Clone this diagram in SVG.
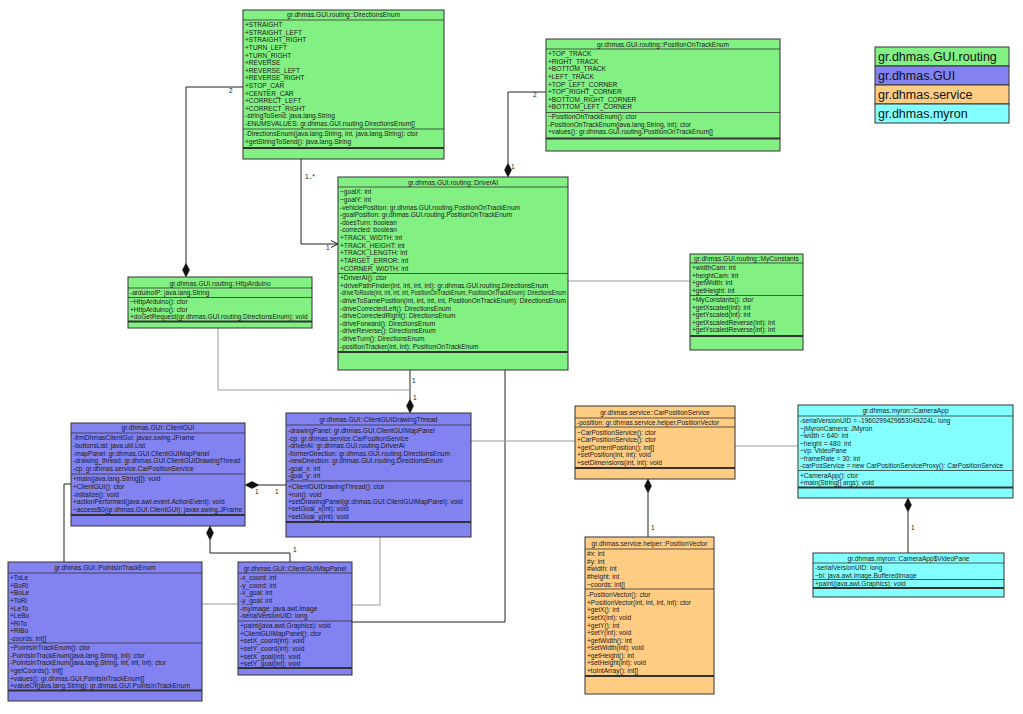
<svg xmlns="http://www.w3.org/2000/svg" width="1023" height="714" viewBox="0 0 1023 714">
<style>
text{font-family:"Liberation Sans",Arial,sans-serif;font-size:6.6px;fill:#1a1a1a}
.h{text-anchor:middle}
.g{fill:#82f082}.b{fill:#8282f0}.o{fill:#ffcc84}.c{fill:#84ffff}
.box{stroke:#333;stroke-width:1}
.sep{stroke:#333;stroke-width:0.8}
.thk{stroke:#333;stroke-width:1.8}
.cn{fill:none;stroke:#222;stroke-width:1}
.cg{fill:none;stroke:#9a9a9a;stroke-width:1}
.dm{fill:#111;stroke:#111;stroke-width:0.5}
.lg{font-size:12.5px;fill:#111}
.lb{font-size:6.6px;fill:#222}
</style>
<rect width="1023" height="714" fill="#fff"/>

<g id="connectors">
<polyline class="cn" points="243,87 186,87 186,263"/>
<polygon class="dm" points="186,263 182.5,270 186,277 189.5,270"/>
<text class="lb" x="229" y="93">2</text>
<polyline class="cn" points="301,159 301,244 337,244"/>
<polyline class="cn" points="331,240.5 338,244 331,247.5"/>
<text class="lb" x="305" y="179">1..*</text>
<text class="lb" x="326" y="250">1</text>
<polyline class="cn" points="508,163 508,92 546,92"/>
<polygon class="dm" points="508,163 504.5,170 508,177 511.5,170"/>
<text class="lb" x="533" y="97">2</text>
<text class="lb" x="511" y="169">1</text>
<line class="cg" x1="568" y1="281" x2="690" y2="281"/>
<line class="cn" x1="410" y1="370" x2="410" y2="399"/>
<polygon class="dm" points="410,399 406.5,406 410,413 413.5,406"/>
<text class="lb" x="412" y="383">1</text>
<text class="lb" x="413" y="400">1</text>
<polyline class="cg" points="218,328 218,390 410,390"/>
<line class="cn" x1="259" y1="485" x2="286" y2="485"/>
<polygon class="dm" points="245,485 252,481.5 259,485 252,488.5"/>
<text class="lb" x="255" y="494">1</text>
<text class="lb" x="275" y="494">1</text>
<polyline class="cn" points="210,540 210,553 290,553 290,562"/>
<polygon class="dm" points="210,526 206.5,533 210,540 213.5,533"/>
<text class="lb" x="293" y="552">1</text>
<polyline class="cn" points="71,484 64,484 64,562"/>
<polyline class="cg" points="380,537 380,605 352,605"/>
<polyline class="cn" points="505,370 505,622 352,622"/>
<line class="cg" x1="202" y1="604" x2="238" y2="604"/>
<line class="cg" x1="471" y1="441" x2="575" y2="441"/>
<line class="cg" x1="735" y1="446" x2="798" y2="446"/>
<line class="cn" x1="648" y1="493" x2="648" y2="537"/>
<polygon class="dm" points="648,479 644.5,486 648,493 651.5,486"/>
<text class="lb" x="651" y="530">1</text>
<line class="cn" x1="908" y1="512" x2="908" y2="553"/>
<polygon class="dm" points="908,498 904.5,505 908,512 911.5,505"/>
<text class="lb" x="911" y="530">1</text>
</g>

<g id="legend">
<rect class="g box" x="875" y="47" width="134" height="19"/>
<rect class="b box" x="875" y="66" width="134" height="19"/>
<rect class="o box" x="875" y="85" width="134" height="19"/>
<rect class="c box" x="875" y="104" width="134" height="19"/>
<text class="lg" x="878" y="61">gr.dhmas.GUI.routing</text>
<text class="lg" x="878" y="80">gr.dhmas.GUI</text>
<text class="lg" x="878" y="99">gr.dhmas.service</text>
<text class="lg" x="878" y="118">gr.dhmas.myron</text>
</g>

<g id="DirectionsEnum">
<rect class="g box" x="243" y="10" width="201" height="149"/>
<line class="sep" x1="243" y1="20" x2="444" y2="20"/>
<line class="sep" x1="243" y1="129" x2="444" y2="129"/>
<line class="thk" x1="243" y1="148" x2="444" y2="148"/>
<text class="h" x="343.5" y="17.3">gr.dhmas.GUI.routing::DirectionsEnum</text>
<text x="245" y="27.2">+STRAIGHT</text>
<text x="245" y="34.8">+STRAIGHT_LEFT</text>
<text x="245" y="42.4">+STRAIGHT_RIGHT</text>
<text x="245" y="50">+TURN_LEFT</text>
<text x="245" y="57.6">+TURN_RIGHT</text>
<text x="245" y="65.2">+REVERSE</text>
<text x="245" y="72.8">+REVERSE_LEFT</text>
<text x="245" y="80.4">+REVERSE_RIGHT</text>
<text x="245" y="88">+STOP_CAR</text>
<text x="245" y="95.6">+CENTER_CAR</text>
<text x="245" y="103.2">+CORRECT_LEFT</text>
<text x="245" y="110.8">+CORRECT_RIGHT</text>
<text x="245" y="118.4">-stringToSend: java.lang.String</text>
<text x="245" y="126">-ENUMSVALUES: gr.dhmas.GUI.routing.DirectionsEnum[]</text>
<text x="245" y="136.4">-DirectionsEnum(java.lang.String, int, java.lang.String): ctor</text>
<text x="245" y="144">+getStringToSend(): java.lang.String</text>
</g>

<g id="PositionOnTrackEnum">
<rect class="g box" x="546" y="39" width="234" height="112"/>
<line class="sep" x1="546" y1="49" x2="780" y2="49"/>
<line class="sep" x1="546" y1="112.5" x2="780" y2="112.5"/>
<line class="thk" x1="546" y1="138.5" x2="780" y2="138.5"/>
<text class="h" x="663" y="46.5">gr.dhmas.GUI.routing::PositionOnTrackEnum</text>
<text x="548" y="56.2">+TOP_TRACK</text>
<text x="548" y="63.8">+RIGHT_TRACK</text>
<text x="548" y="71.4">+BOTTOM_TRACK</text>
<text x="548" y="79">+LEFT_TRACK</text>
<text x="548" y="86.6">+TOP_LEFT_CORNER</text>
<text x="548" y="94.2">+TOP_RIGHT_CORNER</text>
<text x="548" y="101.8">+BOTTOM_RIGHT_CORNER</text>
<text x="548" y="109.4">+BOTTOM_LEFT_CORNER</text>
<text x="548" y="119.2">~PositionOnTrackEnum(): ctor</text>
<text x="548" y="126.8">-PositionOnTrackEnum(java.lang.String, int): ctor</text>
<text x="548" y="134.4">+values(): gr.dhmas.GUI.routing.PositionOnTrackEnum[]</text>
</g>

<g id="DriverAI">
<rect class="g box" x="338" y="177" width="230" height="193"/>
<line class="sep" x1="338" y1="187" x2="568" y2="187"/>
<line class="sep" x1="338" y1="273.5" x2="568" y2="273.5"/>
<line class="thk" x1="338" y1="352" x2="568" y2="352"/>
<text class="h" x="453" y="184.5">gr.dhmas.GUI.routing::DriverAI</text>
<text x="340" y="194.2">~goalX: int</text>
<text x="340" y="201.85">~goalY: int</text>
<text x="340" y="209.5">-vehiclePosition: gr.dhmas.GUI.routing.PositionOnTrackEnum</text>
<text x="340" y="217.15">-goalPosition: gr.dhmas.GUI.routing.PositionOnTrackEnum</text>
<text x="340" y="224.8">-doesTurn: boolean</text>
<text x="340" y="232.45">-corrected: boolean</text>
<text x="340" y="240.1">+TRACK_WIDTH: int</text>
<text x="340" y="247.75">+TRACK_HEIGHT: int</text>
<text x="340" y="255.4">+TRACK_LENGTH: int</text>
<text x="340" y="263.05">+TARGET_ERROR: int</text>
<text x="340" y="270.7">+CORNER_WIDTH: int</text>
<text x="340" y="280.2">+DriverAI(): ctor</text>
<text x="340" y="287.8">+drivePathFinder(int, int, int, int): gr.dhmas.GUI.routing.DirectionsEnum</text>
<text x="340" y="295.4" textLength="226" lengthAdjust="spacingAndGlyphs">-driveToRoute(int, int, int, int, PositionOnTrackEnum, PositionOnTrackEnum): DirectionsEnum</text>
<text x="340" y="303" textLength="226" lengthAdjust="spacingAndGlyphs">-driveToSamePosition(int, int, int, int, PositionOnTrackEnum): DirectionsEnum</text>
<text x="340" y="310.6">-driveCorrectedLeft(): DirectionsEnum</text>
<text x="340" y="318.2">-driveCorrectedRight(): DirectionsEnum</text>
<text x="340" y="325.8">-driveForward(): DirectionsEnum</text>
<text x="340" y="333.4">-driveReverse(): DirectionsEnum</text>
<text x="340" y="341">-driveTurn(): DirectionsEnum</text>
<text x="340" y="348.6">-positionTracker(int, int): PositionOnTrackEnum</text>
</g>

<g id="HttpArduino">
<rect class="g box" x="128" y="277" width="184" height="51"/>
<line class="sep" x1="128" y1="288" x2="312" y2="288"/>
<line class="sep" x1="128" y1="297.5" x2="312" y2="297.5"/>
<line class="thk" x1="128" y1="321.5" x2="312" y2="321.5"/>
<text class="h" x="220" y="285.5">gr.dhmas.GUI.routing::HttpArduino</text>
<text x="130" y="294.7">-arduinoIP: java.lang.String</text>
<text x="130" y="304.2">~HttpArduino(): ctor</text>
<text x="130" y="311.5">+HttpArduino(): ctor</text>
<text x="130" y="318.8">+doGetRequest(gr.dhmas.GUI.routing.DirectionsEnum): void</text>
</g>

<g id="MyConstants">
<rect class="g box" x="690" y="254" width="113" height="96"/>
<line class="sep" x1="690" y1="263" x2="803" y2="263"/>
<line class="sep" x1="690" y1="295.5" x2="803" y2="295.5"/>
<line class="thk" x1="690" y1="336" x2="803" y2="336"/>
<text class="h" x="746.5" y="260.8">gr.dhmas.GUI.routing::MyConstants</text>
<text x="692" y="270.2">+widthCam: int</text>
<text x="692" y="277.7">+heightCam: int</text>
<text x="692" y="285.2">+getWidth: int</text>
<text x="692" y="292.7">+getHeight: int</text>
<text x="692" y="302.2">+MyConstants(): ctor</text>
<text x="692" y="309.7">+getXscaled(int): int</text>
<text x="692" y="317.2">+getYscaled(int): int</text>
<text x="692" y="324.7">+getXscaledReverse(int): int</text>
<text x="692" y="332.2">+getYscaledReverse(int): int</text>
</g>

<g id="ClientGUI">
<rect class="b box" x="71" y="423" width="174" height="103"/>
<line class="sep" x1="71" y1="433" x2="245" y2="433"/>
<line class="sep" x1="71" y1="474" x2="245" y2="474"/>
<line class="thk" x1="71" y1="515" x2="245" y2="515"/>
<text class="h" x="158" y="430.3">gr.dhmas.GUI::ClientGUI</text>
<text x="73" y="440.2">-frmDhmasClientGui: javax.swing.JFrame</text>
<text x="73" y="447.9">-buttonsList: java.util.List</text>
<text x="73" y="455.6">-mapPanel: gr.dhmas.GUI.ClientGUIMapPanel</text>
<text x="73" y="463.3">-drawing_thread: gr.dhmas.GUI.ClientGUIDrawingThread</text>
<text x="73" y="471">-cp: gr.dhmas.service.CarPositionService</text>
<text x="73" y="481.2">+main(java.lang.String[]): void</text>
<text x="73" y="488.9">+ClientGUI(): ctor</text>
<text x="73" y="496.6">-initialize(): void</text>
<text x="73" y="504.3">+actionPerformed(java.awt.event.ActionEvent): void</text>
<text x="73" y="512">~access$0(gr.dhmas.GUI.ClientGUI): javax.swing.JFrame</text>
</g>

<g id="ClientGUIDrawingThread">
<rect class="b box" x="286" y="413" width="185" height="124"/>
<line class="sep" x1="286" y1="425" x2="471" y2="425"/>
<line class="sep" x1="286" y1="481" x2="471" y2="481"/>
<line class="thk" x1="286" y1="522" x2="471" y2="522"/>
<text class="h" x="378.5" y="421.5">gr.dhmas.GUI::ClientGUIDrawingThread</text>
<text x="288" y="433.2">-drawingPanel: gr.dhmas.GUI.ClientGUIMapPanel</text>
<text x="288" y="440.7">-cp: gr.dhmas.service.CarPositionService</text>
<text x="288" y="448.2">-driverAI: gr.dhmas.GUI.routing.DriverAI</text>
<text x="288" y="455.7">-formerDirection: gr.dhmas.GUI.routing.DirectionsEnum</text>
<text x="288" y="463.2">-newDirection: gr.dhmas.GUI.routing.DirectionsEnum</text>
<text x="288" y="470.7">-goal_x: int</text>
<text x="288" y="478.2">-goal_y: int</text>
<text x="288" y="489.2">+ClientGUIDrawingThread(): ctor</text>
<text x="288" y="496.6">+run(): void</text>
<text x="288" y="504">+setDrawingPanel(gr.dhmas.GUI.ClientGUIMapPanel): void</text>
<text x="288" y="511.4">+setGoal_x(int): void</text>
<text x="288" y="518.8">+setGoal_y(int): void</text>
</g>

<g id="CarPositionService">
<rect class="o box" x="575" y="406" width="160" height="73"/>
<line class="sep" x1="575" y1="418" x2="735" y2="418"/>
<line class="sep" x1="575" y1="427" x2="735" y2="427"/>
<line class="thk" x1="575" y1="468" x2="735" y2="468"/>
<text class="h" x="655" y="414.7">gr.dhmas.service::CarPositionService</text>
<text x="577" y="425">-position: gr.dhmas.service.helper.PositionVector</text>
<text x="577" y="434.7">~CarPositionService(): ctor</text>
<text x="577" y="442.2">+CarPositionService(): ctor</text>
<text x="577" y="449.7">+getCurrentPosition(): int[]</text>
<text x="577" y="457.2">+setPosition(int, int): void</text>
<text x="577" y="464.7">+setDimensions(int, int): void</text>
</g>

<g id="CameraApp">
<rect class="c box" x="798" y="405" width="215" height="93"/>
<line class="sep" x1="798" y1="416" x2="1013" y2="416"/>
<line class="sep" x1="798" y1="470.5" x2="1013" y2="470.5"/>
<line class="thk" x1="798" y1="487.5" x2="1013" y2="487.5"/>
<text class="h" x="905.5" y="413">gr.dhmas.myron::CameraApp</text>
<text x="800" y="423.2">-serialVersionUID = -1960299429653049224L: long</text>
<text x="800" y="430.7">~jMyronCamera: JMyron</text>
<text x="800" y="438.2">~width = 640: int</text>
<text x="800" y="445.7">~height = 480: int</text>
<text x="800" y="453.2">~vp: VideoPane</text>
<text x="800" y="460.7">~frameRate = 30: int</text>
<text x="800" y="468.2">-carPosService = new CarPositionServiceProxy(): CarPositionService</text>
<text x="800" y="477.7">+CameraApp(): ctor</text>
<text x="800" y="485.2">+main(String[] args): void</text>
</g>

<g id="VideoPane">
<rect class="c box" x="813" y="553" width="191" height="44"/>
<line class="sep" x1="813" y1="563" x2="1004" y2="563"/>
<line class="sep" x1="813" y1="579.5" x2="1004" y2="579.5"/>
<line class="thk" x1="813" y1="588" x2="1004" y2="588"/>
<text class="h" x="908.5" y="560.5">gr.dhmas.myron::CameraApp$VideoPane</text>
<text x="815" y="570">-serialVersionUID: long</text>
<text x="815" y="577.5">~bi: java.awt.image.BufferedImage</text>
<text x="815" y="586">+paint(java.awt.Graphics): void</text>
</g>

<g id="PointsInTrackEnum">
<rect class="b box" x="8" y="562" width="194" height="139"/>
<line class="sep" x1="8" y1="573" x2="202" y2="573"/>
<line class="sep" x1="8" y1="643" x2="202" y2="643"/>
<line class="thk" x1="8" y1="690.5" x2="202" y2="690.5"/>
<text class="h" x="105" y="570">gr.dhmas.GUI::PointsInTrackEnum</text>
<text x="10" y="580.2">+ToLe</text>
<text x="10" y="587.8">+BoRi</text>
<text x="10" y="595.4">+BoLe</text>
<text x="10" y="603">+ToRi</text>
<text x="10" y="610.6">+LeTo</text>
<text x="10" y="618.2">+LeBo</text>
<text x="10" y="625.8">+RiTo</text>
<text x="10" y="633.4">+RiBo</text>
<text x="10" y="641">-coords: int[]</text>
<text x="10" y="650.2">~PointsInTrackEnum(): ctor</text>
<text x="10" y="657.8">-PointsInTrackEnum(java.lang.String, int): ctor</text>
<text x="10" y="665.4">-PointsInTrackEnum(java.lang.String, int, int, int): ctor</text>
<text x="10" y="673">+getCoords(): int[]</text>
<text x="10" y="680.6">+values(): gr.dhmas.GUI.PointsInTrackEnum[]</text>
<text x="10" y="688.2">+valueOf(java.lang.String): gr.dhmas.GUI.PointsInTrackEnum</text>
</g>

<g id="ClientGUIMapPanel">
<rect class="b box" x="238" y="562" width="114" height="113"/>
<line class="sep" x1="238" y1="573" x2="352" y2="573"/>
<line class="sep" x1="238" y1="621" x2="352" y2="621"/>
<line class="thk" x1="238" y1="668" x2="352" y2="668"/>
<text class="h" x="295" y="570.5">gr.dhmas.GUI::ClientGUIMapPanel</text>
<text x="240" y="580.2">-x_coord: int</text>
<text x="240" y="587.8">-y_coord: int</text>
<text x="240" y="595.4">-x_goal: int</text>
<text x="240" y="603">-y_goal: int</text>
<text x="240" y="610.6">-myImage: java.awt.Image</text>
<text x="240" y="618.2">-serialVersionUID: long</text>
<text x="240" y="628.2">+paint(java.awt.Graphics): void</text>
<text x="240" y="635.8">+ClientGUIMapPanel(): ctor</text>
<text x="240" y="643.4">+setX_coord(int): void</text>
<text x="240" y="651">+setY_coord(int): void</text>
<text x="240" y="658.6">+setX_goal(int): void</text>
<text x="240" y="666.2">+setY_goal(int): void</text>
</g>

<g id="PositionVector">
<rect class="o box" x="585" y="537" width="129" height="157"/>
<line class="sep" x1="585" y1="549" x2="714" y2="549"/>
<line class="sep" x1="585" y1="589" x2="714" y2="589"/>
<line class="thk" x1="585" y1="676" x2="714" y2="676"/>
<text class="h" x="649.5" y="546">gr.dhmas.service.helper::PositionVector</text>
<text x="587" y="556.2">#x: int</text>
<text x="587" y="563.8">#y: int</text>
<text x="587" y="571.4">#width: int</text>
<text x="587" y="579">#height: int</text>
<text x="587" y="586.6">~coords: int[]</text>
<text x="587" y="597.2">-PositionVector(): ctor</text>
<text x="587" y="604.8">+PositionVector(int, int, int, int): ctor</text>
<text x="587" y="612.3">+getX(): int</text>
<text x="587" y="619.9">+setX(int): void</text>
<text x="587" y="627.5">+getY(): int</text>
<text x="587" y="635">+setY(int): void</text>
<text x="587" y="642.6">+getWidth(): int</text>
<text x="587" y="650.2">+setWidth(int): void</text>
<text x="587" y="657.8">+getHeight(): int</text>
<text x="587" y="665.3">+setHeight(int): void</text>
<text x="587" y="672.9">+toIntArray(): int[]</text>
</g>
</svg>
